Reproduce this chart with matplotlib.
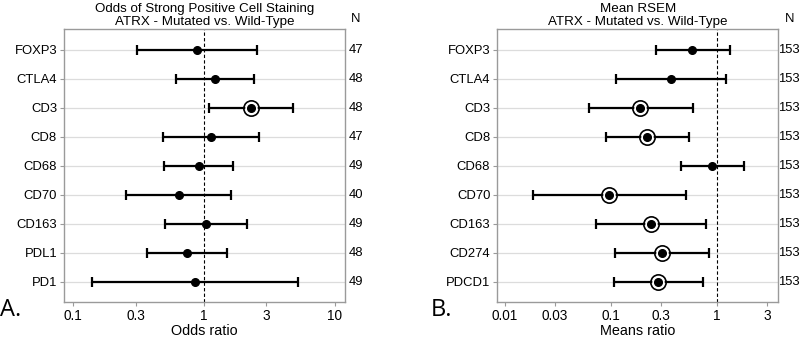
import matplotlib
matplotlib.use("Agg")
import matplotlib.pyplot as plt
import numpy as np

plt.rcParams['font.family'] = ['Liberation Sans', 'DejaVu Sans']

# Panel A data
a_labels = ["FOXP3", "CTLA4", "CD3", "CD8", "CD68", "CD70", "CD163", "PDL1", "PD1"]
a_est = [0.885, 1.21, 2.28, 1.13, 0.91, 0.64, 1.035, 0.74, 0.854]
a_low = [0.306, 0.608, 1.086, 0.49, 0.495, 0.252, 0.504, 0.365, 0.139]
a_high = [2.54, 2.41, 4.78, 2.61, 1.66, 1.62, 2.13, 1.50, 5.19]
a_sig = [False, False, True, False, False, False, False, False, False]
a_n = [47, 48, 48, 47, 49, 40, 49, 48, 49]
a_ticks = [0.1, 0.3, 1, 3, 10]
a_ticklabels = ["0.1", "0.3", "1", "3", "10"]

# Panel B data
b_labels = ["FOXP3", "CTLA4", "CD3", "CD8", "CD68", "CD70", "CD163", "CD274", "PDCD1"]
b_est = [0.59, 0.37, 0.191, 0.221, 0.90, 0.097, 0.241, 0.305, 0.28]
b_low = [0.265, 0.112, 0.062, 0.0908, 0.458, 0.0184, 0.0726, 0.1096, 0.107]
b_high = [1.33, 1.23, 0.598, 0.545, 1.80, 0.514, 0.794, 0.853, 0.743]
b_sig = [False, False, True, True, False, True, True, True, True]
b_n = [153] * 9
b_ticks = [0.01, 0.03, 0.1, 0.3, 1, 3]
b_ticklabels = ["0.01", "0.03", "0.1", "0.3", "1", "3"]

fig = plt.figure(figsize=(8.0, 3.39), dpi=100)
axA = fig.add_axes([0.080, 0.109, 0.351, 0.8055])
axB = fig.add_axes([0.6216, 0.109, 0.351, 0.8055])

spine_col = "#9a9a9a"
FS = 9.4


def panel(ax, labels, est, low, high, sig, n, ticks, ticklabels, xlim, title, xlabel):
    y = np.arange(len(labels))
    ax.set_xscale('log')
    for yi in y:
        ax.axhline(yi, color="#dcdcdc", lw=0.9, zorder=0)
    ax.axvline(1, color="black", lw=0.8, ls=(0, (3, 2)), zorder=1)
    est = np.array(est); low = np.array(low); high = np.array(high)
    ax.errorbar(est, y, xerr=[est - low, high - est], fmt='none', ecolor='black',
                elinewidth=1.6, capsize=3.5, capthick=1.6, zorder=2)
    ax.plot(est, y, 'o', color='black', ms=5.5, zorder=4)
    sig = np.array(sig)
    ax.plot(est[sig], y[sig], 'o', mfc='none', mec='black', mew=1.2, ms=11, zorder=3)
    ax.plot(est[sig], y[sig], 'o', mfc='white', mec='none', ms=9, zorder=3)
    ax.set_xlim(*xlim)
    ax.set_ylim(len(labels) - 1 + 0.70, -0.72)
    ax.set_yticks(y)
    ax.set_yticklabels(labels, fontsize=FS)
    ax.set_xticks(ticks)
    ax.set_xticklabels(ticklabels, fontsize=9.8)
    ax.xaxis.set_minor_locator(matplotlib.ticker.NullLocator())
    ax.tick_params(axis='both', length=3, width=0.8, color=spine_col, pad=2)
    for s in ax.spines.values():
        s.set_color(spine_col)
        s.set_linewidth(1.0)
    ax.set_xlabel(xlabel, fontsize=10.4, labelpad=1)
    ax.set_title(title, fontsize=9.6, linespacing=1.05, pad=3)
    for yi, nv in zip(y, n):
        ax.text(1.04, yi, str(nv), transform=ax.get_yaxis_transform(), ha='center',
                va='center', fontsize=FS)
    ax.text(1.04, 1.015, "N", transform=ax.transAxes, ha='center', va='bottom', fontsize=FS)
    return ax


panel(axA, a_labels, a_est, a_low, a_high, a_sig, a_n, a_ticks, a_ticklabels,
      (0.0853, 11.9), "Odds of Strong Positive Cell Staining\nATRX - Mutated vs. Wild-Type",
      "Odds ratio")
panel(axB, b_labels, b_est, b_low, b_high, b_sig, b_n, b_ticks, b_ticklabels,
      (0.00855, 3.78), "Mean RSEM\nATRX - Mutated vs. Wild-Type",
      "Means ratio")

fig.text(0.0, 0.085, "A.", fontsize=17, family=['Open Sans', 'DejaVu Sans'], ha='left', va='center')
fig.text(0.539, 0.085, "B.", fontsize=17, family=['Open Sans', 'DejaVu Sans'], ha='left', va='center')

fig.savefig("out.png", dpi=100)
